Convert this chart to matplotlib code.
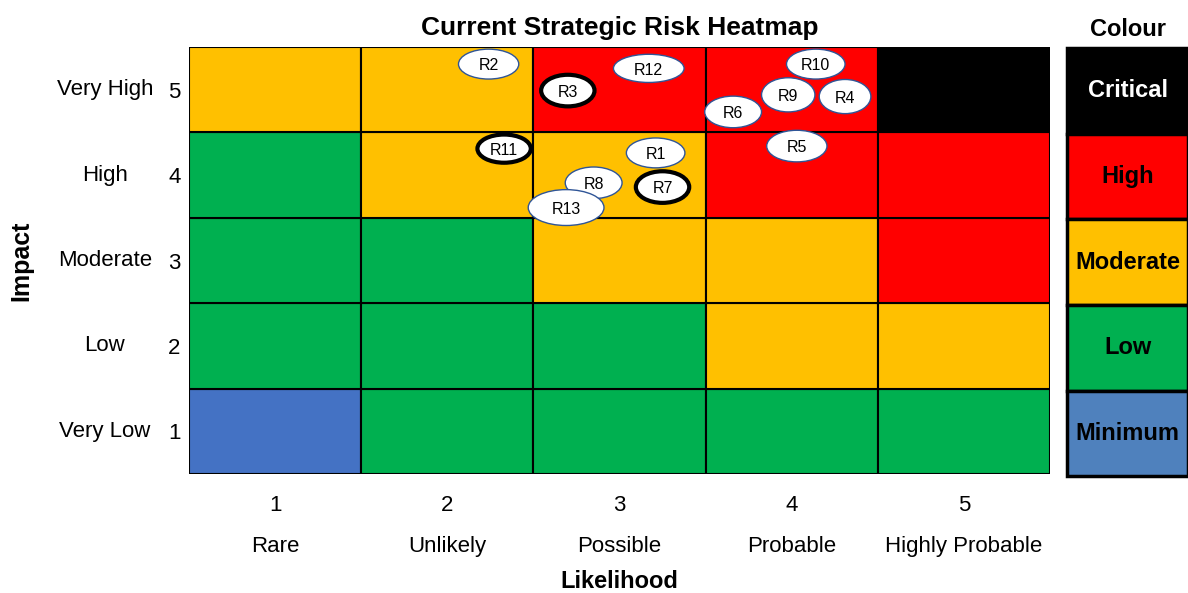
import matplotlib.pyplot as plt
from matplotlib.patches import Rectangle, Ellipse

plt.rcParams['font.family'] = ['Liberation Sans', 'DejaVu Sans']

likelihood_names = ['Rare', 'Unlikely', 'Possible', 'Probable', 'Highly Probable']
impact_names = ['Very Low', 'Low', 'Moderate', 'High', 'Very High']

# rating per cell, rows = impact 1..5, cols = likelihood 1..5
grid = [
    ['Minimum', 'Low', 'Low', 'Low', 'Low'],
    ['Low', 'Low', 'Low', 'Moderate', 'Moderate'],
    ['Low', 'Low', 'Moderate', 'Moderate', 'High'],
    ['Low', 'Moderate', 'Moderate', 'High', 'High'],
    ['Moderate', 'Moderate', 'High', 'High', 'Critical'],
]
cell_colours = {'Critical': '#000000', 'High': '#FF0000', 'Moderate': '#FFC000',
                'Low': '#00B050', 'Minimum': '#4472C4'}

levels = ['Critical', 'High', 'Moderate', 'Low', 'Minimum']
level_colours = ['#000000', '#FF0000', '#FFC000', '#00B050', '#4F81BD']
level_text = ['white', 'black', 'black', 'black', 'black']

# risks: name, likelihood (x), impact (y), highlighted
risk_names = ['R2', 'R12', 'R3', 'R10', 'R9', 'R4', 'R6', 'R11', 'R1', 'R5', 'R8', 'R7', 'R13']
risk_x = [2.24, 3.17, 2.70, 4.14, 3.98, 4.31, 3.66, 2.33, 3.21, 4.03, 2.85, 3.25, 2.69]
risk_y = [5.30, 5.25, 4.99, 5.30, 4.94, 4.92, 4.74, 4.31, 4.26, 4.34, 3.91, 3.86, 3.62]
risk_bold = [False, False, True, False, False, False, False, True, False, False, False, True, False]
risk_w = [0.35, 0.41, 0.31, 0.34, 0.31, 0.30, 0.33, 0.31, 0.34, 0.35, 0.33, 0.31, 0.44]
risk_h = [0.35, 0.33, 0.37, 0.35, 0.40, 0.40, 0.37, 0.33, 0.35, 0.37, 0.37, 0.37, 0.42]

fig = plt.figure(figsize=(11.88, 5.93), dpi=100)
ax = fig.add_axes([0.1591, 0.2007, 0.7247, 0.72])

for i in range(5):
    for j in range(5):
        ax.add_patch(Rectangle((j + 0.5, i + 0.5), 1, 1, facecolor=cell_colours[grid[i][j]],
                               edgecolor='black', lw=1.5, zorder=1))

for n, x, y, b, w, h in zip(risk_names, risk_x, risk_y, risk_bold, risk_w, risk_h):
    ax.add_patch(Ellipse((x, y), w, h, facecolor='white',
                         edgecolor='black' if b else '#2F5597', lw=3 if b else 1, zorder=3))
    ax.text(x, y - 0.02, n, ha='center', va='center', fontsize=11.5, zorder=4)

ax.set_xlim(0.5, 5.5)
ax.set_ylim(0.5, 5.5)
ax.set_xticks(range(1, 6))
ax.set_yticks(range(1, 6))
ax.tick_params(length=0, labelsize=16)
ax.tick_params(axis='x', pad=15)
ax.tick_params(axis='y', pad=6)
for s in ax.spines.values():
    s.set_visible(False)

for i, name in enumerate(likelihood_names):
    ax.text(i + 1, -0.169, name, transform=ax.get_xaxis_transform(),
            ha='center', va='center', fontsize=16)
for i, name in enumerate(impact_names):
    ax.text(-0.0976, i + 1, name, transform=ax.get_yaxis_transform(),
            ha='center', va='center', fontsize=16)

ax.text(0.5, 1.045, 'Current Strategic Risk Heatmap', transform=ax.transAxes,
        ha='center', va='center', fontsize=19, fontweight='bold')
ax.text(0.5, -0.252, 'Likelihood', transform=ax.transAxes,
        ha='center', va='center', fontsize=17, fontweight='bold')
ax.text(-0.195, 0.5, 'Impact', transform=ax.transAxes, rotation=90, ha='center', va='center',
        fontsize=18, fontweight='bold')

# colour key
lax = fig.add_axes([0.8985, 0.197, 0.1015, 0.722])
lax.set_xlim(0, 1)
lax.set_ylim(0, 5)
lax.axis('off')
for k, (lv, c, tc) in enumerate(zip(levels, level_colours, level_text)):
    yb = 4 - k
    lax.add_patch(Rectangle((0, yb), 1, 1, facecolor=c, edgecolor='black', lw=2.5, clip_on=False))
    lax.text(0.5, yb + 0.5, lv, ha='center', va='center', fontsize=17, fontweight='bold', color=tc)
lax.text(0.5, 5.22, 'Colour', ha='center', va='center', fontsize=17, fontweight='bold')

fig.savefig('out.png', dpi=100)
